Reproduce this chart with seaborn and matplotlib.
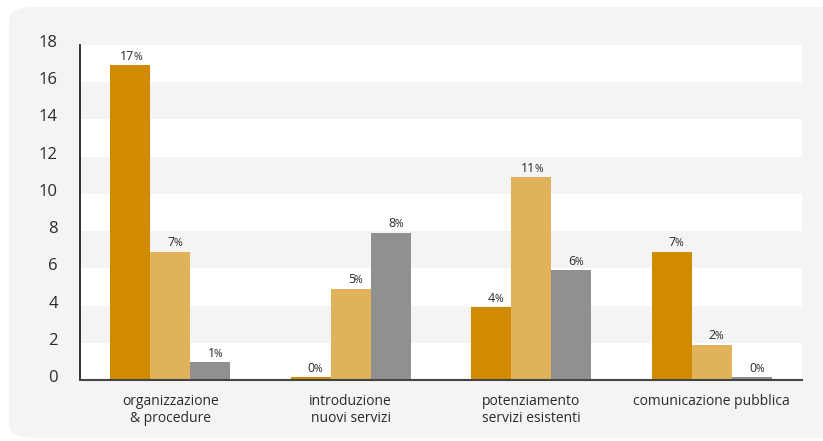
import matplotlib
matplotlib.use("Agg")
import matplotlib.pyplot as plt
from matplotlib.patches import FancyBboxPatch
from matplotlib.transforms import ScaledTranslation
import seaborn as sns
import pandas as pd

# Data
categories = ["organizzazione\n& procedure", "introduzione\nnuovi servizi",
              "potenziamento\nservizi esistenti", "comunicazione pubblica"]
series = ["serie 1", "serie 2", "serie 3"]
values_s1 = [16.9, 0.15, 3.9, 6.9]
values_s2 = [6.9, 4.9, 10.9, 1.9]
values_s3 = [0.95, 7.9, 5.9, 0.15]
labels_s1 = ["17", "0", "4", "7"]
labels_s2 = ["7", "5", "11", "2"]
labels_s3 = ["1", "8", "6", "0"]
y_ticks = [0, 2, 4, 6, 8, 10, 12, 14, 16, 18]

colors = ["#D28A00", "#E0B35A", "#909090"]
text_color = "#2b2b2b"

df = pd.DataFrame({
    "categoria": categories * 3,
    "serie": [s for s in series for _ in categories],
    "valore": values_s1 + values_s2 + values_s3,
})

sns.set_theme(style="white")
plt.rcParams["font.family"] = ["Open Sans", "DejaVu Sans"]

fig = plt.figure(figsize=(8.23, 4.41), dpi=100)
fig.patch.set_facecolor("white")

# rounded light grey panel behind everything
panel = FancyBboxPatch((9 / 823, 3 / 441), 1.2, 431 / 441,
                       boxstyle="round,pad=0,rounding_size=0.03",
                       transform=fig.transFigure, facecolor="#f4f4f4",
                       edgecolor="none", zorder=-5)
fig.patches.append(panel)

ax = fig.add_axes([80 / 823, 61 / 441, 722 / 823, 335 / 441])
ax.set_zorder(2)
ax.set_facecolor("white")

# alternating bands
for lo in range(2, 18, 4):
    ax.axhspan(lo, lo + 2, color="#f4f4f4", zorder=0, lw=0)

sns.barplot(data=df, x="categoria", y="valore", hue="serie",
            palette=colors, width=0.667, saturation=1, legend=False,
            ax=ax, zorder=2, edgecolor="none", linewidth=0)

ax.set_xlim(-0.5, 3.5)
ax.set_ylim(0, 18)
ax.set_yticks(y_ticks)
ax.set_xlabel("")
ax.set_ylabel("")

ax.tick_params(axis="y", length=0, pad=16, labelsize=12, labelcolor=text_color)
ax.tick_params(axis="x", length=0, pad=10, labelsize=10, labelcolor=text_color)
for lab in ax.get_yticklabels():
    lab.set_transform(lab.get_transform() + ScaledTranslation(0, 4 / 100, fig.dpi_scale_trans))

for side in ["top", "right"]:
    ax.spines[side].set_visible(False)
ax.spines["left"].set_color("#111111")
ax.spines["left"].set_linewidth(1.2)
ax.spines["bottom"].set_color("#444444")
ax.spines["bottom"].set_linewidth(1.5)

# value labels: number plus a smaller percent sign
all_labels = [labels_s1, labels_s2, labels_s3]
for container, labs in zip(ax.containers, all_labels):
    for bar, lab in zip(container, labs):
        xc = bar.get_x() + bar.get_width() / 2
        yt = bar.get_height()
        ax.annotate(lab, (xc, yt), xytext=(3, 4), textcoords="offset points",
                    ha="right", va="baseline", fontsize=9, color=text_color, zorder=3)
        ax.annotate("%", (xc, yt), xytext=(2.3, 4), textcoords="offset points",
                    ha="left", va="baseline", fontsize=7.5, color=text_color, zorder=3)

fig.savefig("out.png", dpi=100, facecolor=fig.get_facecolor())
